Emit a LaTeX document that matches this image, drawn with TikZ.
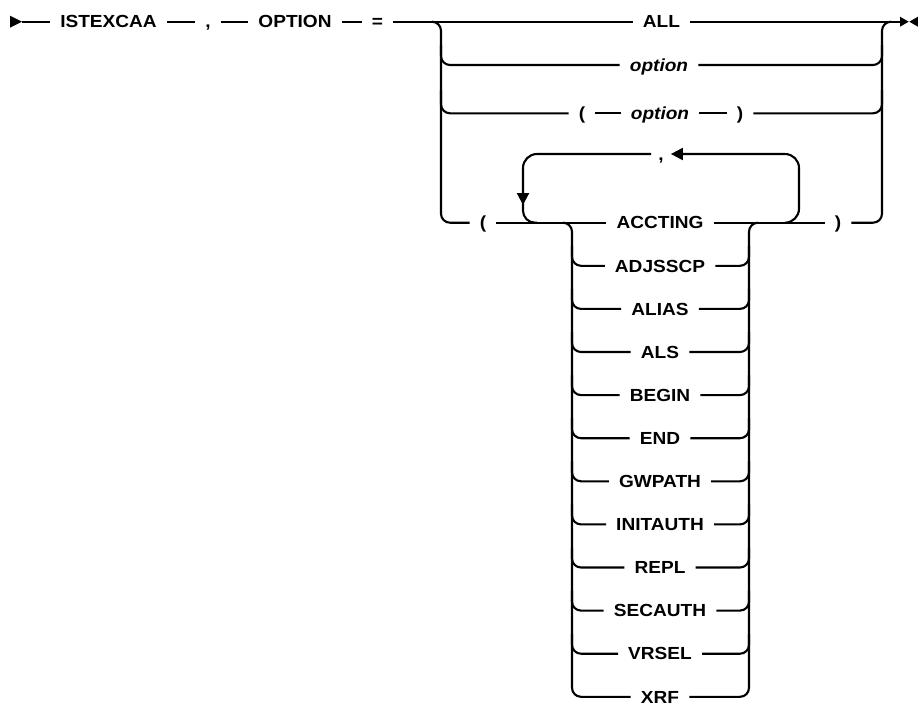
\documentclass[tikz,border=0pt]{standalone}
\usepackage{fontspec}
\newfontfamily\rrfont[FakeStretch=1.09]{Liberation Sans}
\newcommand\lblfont{\rrfont\bfseries\fontsize{17.5}{20}\selectfont}
\usetikzlibrary{arrows.meta}
\begin{document}
\begin{tikzpicture}[x=1pt,y=-1pt,
  ln/.style={line width=2.1pt},
  lbl/.style={font=\lblfont, inner ysep=0pt, inner xsep=10pt, text height=12.5pt, text depth=0pt, anchor=center},
  tip/.style={-{Triangle[length=12pt,width=12pt]}},
  endmark/.style={fill=black}
]
\useasboundingbox (0,0) rectangle (918,705);

% main line
\fill[endmark] (10,15.7) -- (22,21.7) -- (10,27.7) -- cycle;
\coordinate (st) at (22,21.7);
\node[lbl] (ist) at (108.5,21.7) {ISTEXCAA};
\node[lbl] (c1) at (208,21.7) {,};
\node[lbl] (opt) at (295,21.7) {OPTION};
\node[lbl] (eq) at (377.5,21.7) {=};
\draw[ln] (st) -- (ist.west);
\draw[ln] (ist.east) -- (c1.west);
\draw[ln] (c1.east) -- (opt.west);
\draw[ln] (opt.east) -- (eq.west);

% outer choice
\node[lbl] (all) at (661.5,21.7) {ALL};
\node[lbl] (o1) at (659,65) {\itshape option};
\node[lbl] (p1) at (582,113.3) {(};
\node[lbl] (o2) at (660,113.3) {\itshape option};
\node[lbl] (p2) at (740,113.3) {)};
\node[lbl] (lp) at (483,222.7) {(};
\node[lbl] (rp) at (838,222.7) {)};
\coordinate (en) at (900,21.7);

\draw[ln] (eq.east) -- (all.west);
\draw[ln] (all.east) -- (en);
\fill[endmark] (900,16.7) -- (908.7,21.7) -- (900,26.7) -- cycle;
\fill[endmark] (918,16.7) -- (909.3,21.7) -- (918,26.7) -- cycle;

\draw[ln, rounded corners=9] (432,21.7) -- (441,21.7) -- (441,222.7) -- (lp.west);
\draw[ln, rounded corners=9] (441,45) |- (o1.west);
\draw[ln, rounded corners=9] (441,90) |- (p1.west);
\draw[ln] (p1.east) -- (o2.west);
\draw[ln] (o2.east) -- (p2.west);
\draw[ln, rounded corners=9] (o1.east) -| (882,45);
\draw[ln, rounded corners=9] (p2.east) -| (882,90);
\draw[ln, rounded corners=9] (rp.east) -- (882,222.7) -- (882,21.7) -- (891,21.7);

% repeat loop
\node[lbl, inner xsep=7pt] (cm) at (661,154) {,};
\draw[ln, rounded corners=14, tip] (785,222.7) -- (799,222.7) -- (799,154) -- (cm.east);
\draw[ln, rounded corners=14, tip] (cm.west) -- (523,154) -- (523,205);
\draw[ln, rounded corners=12] (523,203) -- (523,222.7) -- (537,222.7);

% inner stack
\foreach \t [count=\i from 0] in {ACCTING,ADJSSCP,ALIAS,ALS,BEGIN,END,GWPATH,INITAUTH,REPL,SECAUTH,VRSEL,XRF}
  \node[lbl] (s\i) at (660,{222.7+43.1*\i}) {\t};

\draw[ln] (lp.east) -- (s0.west);
\draw[ln] (s0.east) -- (rp.west);
\draw[ln, rounded corners=9] (563,222.7) -- (572,222.7) -- (572,696.8) -- (s11.west);
\draw[ln, rounded corners=9] (s11.east) -- (749,696.8) -- (749,222.7) -- (758,222.7);
\foreach \i in {1,...,10} {
  \draw[ln, rounded corners=9] (572,{222.7+43.1*\i-20}) |- (s\i.west);
  \draw[ln, rounded corners=9] (s\i.east) -| (749,{222.7+43.1*\i-20});
}
\end{tikzpicture}
\end{document}
